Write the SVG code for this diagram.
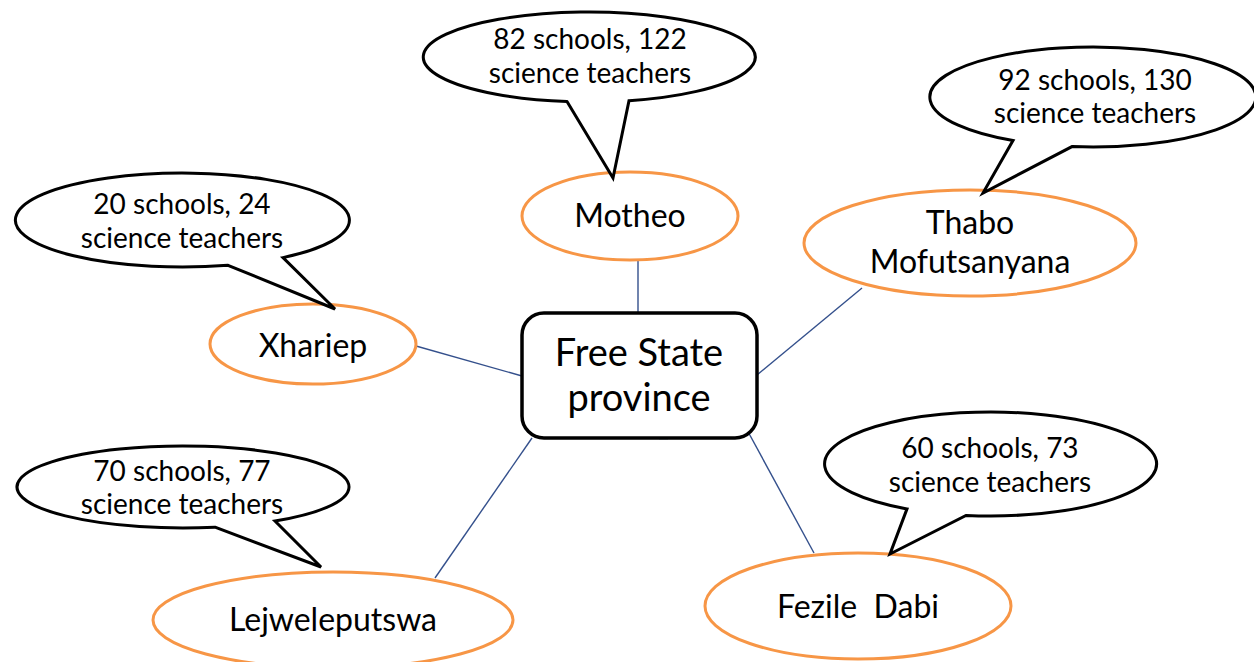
<svg xmlns="http://www.w3.org/2000/svg" width="1254" height="662" viewBox="0 0 1254 662">
<style>
.bg{fill:#ffffff}
.callout{fill:#ffffff;stroke:#000000;stroke-width:3;stroke-linejoin:miter}
.district{fill:#ffffff;stroke:#F79646;stroke-width:3}
.center{fill:#ffffff;stroke:#000000;stroke-width:3.5}
.conn{stroke:#34508C;stroke-width:1.4;fill:none}
text{font-family:Lato,"Open Sans","Liberation Sans",sans-serif;fill:#000000;text-anchor:middle}
.ct{font-size:28px}
.dt{font-size:32px}
.pt{font-size:38px}
</style>
<rect class="bg" x="0" y="0" width="1254" height="662"/>
<g id="connectors">
<line class="conn" x1="638" y1="260" x2="638" y2="313"/>
<line class="conn" x1="416" y1="346" x2="522" y2="376"/>
<line class="conn" x1="862" y1="288" x2="757" y2="375"/>
<line class="conn" x1="435" y1="578" x2="532" y2="438"/>
<line class="conn" x1="746" y1="428" x2="814" y2="553"/>
<line class="conn" x1="659" y1="438" x2="668" y2="438" style="stroke-width:2.5"/>
</g>
<g id="center">
<rect class="center" x="522" y="313" width="235" height="125" rx="22" ry="22"/>
<text class="pt" x="639" y="366">Free State</text>
<text class="pt" x="639" y="411">province</text>
</g>
<g id="motheo">
<ellipse class="district" cx="630" cy="216" rx="108" ry="44"/>
<text class="dt" x="630" y="227">Motheo</text>
</g>
<g id="motheo-callout">
<path class="callout" d="M 567,101.6 L 613,178 L 629,100.7 A 166 45 0 1 0 567,101.6 Z"/>
<text class="ct" x="590" y="49">82 schools, 122</text>
<text class="ct" x="590" y="83">science teachers</text>
</g>
<g id="xhariep">
<ellipse class="district" cx="313" cy="344" rx="103" ry="40"/>
<text class="dt" x="313" y="357">Xhariep</text>
</g>
<g id="xhariep-callout">
<path class="callout" d="M 228,265.3 L 335,309 L 283,257.6 A 167 47 0 1 0 228,265.3 Z"/>
<text class="ct" x="182" y="214">20 schools, 24</text>
<text class="ct" x="182" y="248">science teachers</text>
</g>
<g id="thabo">
<ellipse class="district" cx="970" cy="243" rx="166" ry="53"/>
<text class="dt" x="970" y="234">Thabo</text>
<text class="dt" x="970" y="273">Mofutsanyana</text>
</g>
<g id="thabo-callout">
<path class="callout" d="M 1013,140.6 L 983,193 L 1072,146.6 A 163 50 0 1 0 1013,140.6 Z"/>
<text class="ct" x="1095" y="90">92 schools, 130</text>
<text class="ct" x="1095" y="123">science teachers</text>
</g>
<g id="lejweleputswa">
<ellipse class="district" cx="333" cy="620" rx="180" ry="48"/>
<text class="dt" x="333" y="631">Lejweleputswa</text>
</g>
<g id="lejweleputswa-callout">
<path class="callout" d="M 215,527.2 L 321,567 L 275,521.1 A 166 41 0 1 0 215,527.2 Z"/>
<text class="ct" x="182" y="481">70 schools, 77</text>
<text class="ct" x="182" y="514">science teachers</text>
</g>
<g id="fezile">
<ellipse class="district" cx="858" cy="606" rx="153" ry="53"/>
<text class="dt" x="858" y="618" xml:space="preserve">Fezile  Dabi</text>
</g>
<g id="fezile-callout">
<path class="callout" d="M 907,508.9 L 890,554 L 966,515.4 A 166 52 0 1 0 907,508.9 Z"/>
<text class="ct" x="990" y="458">60 schools, 73</text>
<text class="ct" x="990" y="492">science teachers</text>
</g>
</svg>
